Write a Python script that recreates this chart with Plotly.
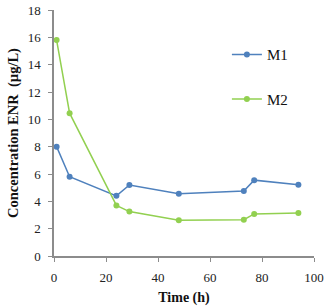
import plotly.graph_objects as go

time_m1 = [1, 6, 24, 29, 48, 73, 77, 94]
conc_m1 = [8.0, 5.8, 4.4, 5.2, 4.55, 4.75, 5.55, 5.22]
time_m2 = [1, 6, 24, 29, 48, 73, 77, 94]
conc_m2 = [15.8, 10.45, 3.7, 3.25, 2.62, 2.66, 3.08, 3.14]

fig = go.Figure()
fig.add_trace(go.Scatter(x=time_m1, y=conc_m1, mode="lines+markers", name="M1",
                         legendgroup="a",
                         line=dict(color="#4F81BD", width=1.5),
                         marker=dict(color="#4F81BD", size=6)))
fig.add_trace(go.Scatter(x=time_m2, y=conc_m2, mode="lines+markers", name="M2",
                         legendgroup="b",
                         line=dict(color="#92D050", width=1.5),
                         marker=dict(color="#92D050", size=6)))

axis_common = dict(showgrid=False, zeroline=False, showline=True,
                   linecolor="#8c8c8c", linewidth=1.5, ticks="outside",
                   tickcolor="#8c8c8c", ticklen=4, ticklabelstandoff=5,
                   automargin=False,
                   tickfont=dict(family="Liberation Serif", size=13, color="#222"))

fig.update_layout(
    width=327, height=306,
    margin=dict(l=54, r=13, t=10, b=50),
    paper_bgcolor="white", plot_bgcolor="white",
    font=dict(family="Liberation Serif", color="#111"),
    xaxis=dict(range=[0, 100], dtick=20,
               title=dict(text="<b>Time (h)</b>", font=dict(size=14), standoff=8),
               **axis_common),
    yaxis=dict(range=[0, 18], dtick=2,
               title=dict(text="<b>Concentration ENR  (µg/L)</b>", font=dict(size=14.5), standoff=6),
               **axis_common),
    legend=dict(x=0.665, y=0.885, xanchor="left", yanchor="top",
                font=dict(family="Liberation Serif", size=15),
                tracegroupgap=22, bgcolor="rgba(0,0,0,0)"),
)

fig.write_html("out.html")
